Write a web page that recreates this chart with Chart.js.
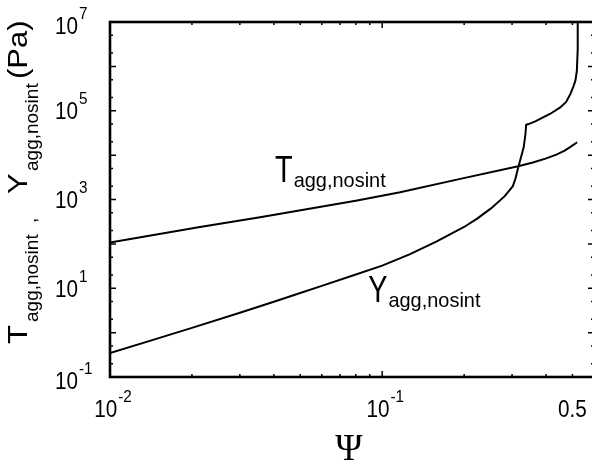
<!DOCTYPE html>
<html><head><meta charset="utf-8">
<script src="https://cdn.jsdelivr.net/npm/chart.js@4.4.0/dist/chart.umd.min.js"></script>
<style>
html,body{margin:0;padding:0;background:#fff;overflow:hidden;}
#wrap{position:relative;width:600px;height:466px;}
</style></head><body>
<div id="wrap"><canvas id="c"></canvas></div>
<script>
// ---- data ----
const tPsi = [0.01, 0.0214, 0.0356, 0.0809, 0.1164, 0.1936, 0.316, 0.355, 0.398, 0.4365, 0.468, 0.49, 0.507, 0.520];
const tVal = [108, 241, 400, 951, 1459, 2917, 5600, 6730, 8320, 10280, 12600, 15100, 17400, 19500];

const yPsi = [0.01, 0.015, 0.02, 0.03, 0.04, 0.05, 0.06, 0.08, 0.1, 0.126, 0.158, 0.2, 0.224, 0.251, 0.282, 0.302,
              0.309, 0.316, 0.3236, 0.331, 0.336, 0.338, 0.345, 0.365, 0.415, 0.451, 0.474, 0.491, 0.5035, 0.5125,
              0.519, 0.5225, 0.5228];
const yVal = [0.346, 0.741, 1.28, 2.81, 4.98, 7.79, 11.3, 20.4, 32.4, 58.2, 112, 240, 376, 631, 1189, 1995,
              3020, 5250, 8910, 14960, 29900, 48400, 50100, 57500, 85700, 118600, 158000, 237000, 347000, 472000,
              794000, 2240000, 10000000];

const xMajor = [0.01, 0.1];
const xMinor = [0.02, 0.03, 0.04, 0.05, 0.06, 0.07, 0.08, 0.09, 0.2, 0.3, 0.4, 0.5, 0.6];
const yMajor = [0.1, 1, 10, 100, 1e3, 1e4, 1e5, 1e6, 1e7];
const yMinor = [0.2, 0.5, 2, 5, 20, 50, 200, 500, 2e3, 5e3, 2e4, 5e4, 2e5, 5e5, 2e6, 5e6];

const xLabelVals = [0.01, 0.1, 0.5];
const xLabelBase = ["10", "10", "0.5"];
const xLabelExp  = ["-2", "-1", ""];
const yLabelVals = [0.1, 10, 1e3, 1e5, 1e7];
const yLabelBase = ["10", "10", "10", "10", "10"];
const yLabelExp  = ["-1", "1", "3", "5", "7"];

const annX = [0.0404, 0.0888];
const annY = [2450, 4.92];
const annMain = ["T", "Y"];
const annSub = ["agg,nosint", "agg,nosint"];

const SANS = "'Liberation Sans', Arial, Helvetica, sans-serif";
const SERIF = "'Liberation Serif', 'Times New Roman', serif";

function sText(ctx, str, x, y, font, sx, sy, align) {
  ctx.save();
  ctx.translate(x, y);
  ctx.scale(sx, sy);
  ctx.font = font;
  ctx.textAlign = align || 'left';
  ctx.textBaseline = 'alphabetic';
  ctx.fillText(str, 0, 0);
  ctx.restore();
}
function sWidth(ctx, str, font, sx) {
  ctx.save(); ctx.font = font; const w = ctx.measureText(str).width * sx; ctx.restore(); return w;
}

const framePlugin = {
  id: 'frame',
  afterDraw(chart) {
    const ctx = chart.ctx, a = chart.chartArea, xs = chart.scales.x, ys = chart.scales.y;
    ctx.save();
    ctx.fillStyle = '#000';
    ctx.strokeStyle = '#000';
    // ticks (inward)
    ctx.lineWidth = 1.5;
    const tick = (vals, len) => {
      vals.forEach(v => {
        const px = xs.getPixelForValue(v);
        ctx.beginPath();
        ctx.moveTo(px, a.bottom); ctx.lineTo(px, a.bottom - len);
        ctx.moveTo(px, a.top); ctx.lineTo(px, a.top + len);
        ctx.stroke();
      });
    };
    const tickY = (vals, len) => {
      vals.forEach(v => {
        const py = ys.getPixelForValue(v);
        ctx.beginPath();
        ctx.moveTo(a.left, py); ctx.lineTo(a.left + len, py);
        ctx.moveTo(a.right, py); ctx.lineTo(a.right - len, py);
        ctx.stroke();
      });
    };
    tick(xMajor, 6); tick(xMinor, 3);
    tickY(yMajor, 6); tickY(yMinor, 3);
    // frame
    ctx.lineWidth = 2.6;
    ctx.strokeRect(a.left, a.top, a.right - a.left, a.bottom - a.top);

    const baseF = "23px " + SANS, expF = "17px " + SANS;
    // y tick labels
    yLabelVals.forEach((v, i) => {
      const py = ys.getPixelForValue(v);
      const edge = (i === 0 || i === yLabelVals.length - 1) ? 3.5 : 0;
      const bl = py + 8.5 + edge;
      sText(ctx, yLabelBase[i], 78, bl, baseF, 0.9, 1, 'right');
      sText(ctx, yLabelExp[i], 79, bl - 15, expF, 0.9, 1, 'left');
    });
    // x tick labels
    xLabelVals.forEach((v, i) => {
      const px = xs.getPixelForValue(v);
      const bl = 416.7;
      if (xLabelExp[i]) {
        const wb = sWidth(ctx, xLabelBase[i], baseF, 0.9);
        const we = sWidth(ctx, xLabelExp[i], expF, 0.9);
        const start = px - (wb + we + 1) / 2 + 3;
        sText(ctx, xLabelBase[i], start, bl, baseF, 0.9, 1, 'left');
        sText(ctx, xLabelExp[i], start + wb + 1, bl - 15, expF, 0.9, 1, 'left');
      } else {
        sText(ctx, xLabelBase[i], px, bl, baseF, 0.9, 1, 'center');
      }
    });
    // curve annotations
    const mainF = "37px " + SANS, subF = "21px " + SANS;
    annMain.forEach((m, i) => {
      const px = xs.getPixelForValue(annX[i]);
      const py = ys.getPixelForValue(annY[i]);
      sText(ctx, m, px, py, mainF, 0.78, 1, 'left');
      const w = sWidth(ctx, m, mainF, 0.78);
      sText(ctx, annSub[i], px + w + 1, py + 5, subF, 0.95, 1, 'left');
    });
    // x axis title
    sText(ctx, "\u03A8", (a.left + a.right) / 2 - 3, 460, "37px " + SERIF, 1, 1, 'center');
    // y axis title (rotated)
    ctx.save();
    ctx.translate(0, 344);
    ctx.rotate(-Math.PI / 2);
    const tMain = "31px " + SANS, tSub = "19px " + SANS;
    sText(ctx, "T", 0, 27, tMain, 1, 0.88, 'left');
    sText(ctx, "agg,nosint", 22, 38, tSub, 1, 1, 'left');
    sText(ctx, ",", 121, 36, tSub, 1, 1, 'left');
    sText(ctx, "Y", 150, 27, tMain, 1, 0.88, 'left');
    sText(ctx, "agg,nosint", 173, 38, tSub, 1, 1, 'left');
    sText(ctx, "(Pa)", 265, 27, tMain, 1, 0.88, 'left');
    ctx.restore();
    ctx.restore();
  }
};

new Chart(document.getElementById('c'), {
  type: 'scatter',
  data: {
    datasets: [
      { label: 'T', data: tPsi.map((x, i) => ({ x: x, y: tVal[i] })), showLine: true,
        borderColor: '#000', backgroundColor: '#000', borderWidth: 2, pointRadius: 0, tension: 0, fill: false },
      { label: 'Y', data: yPsi.map((x, i) => ({ x: x, y: yVal[i] })), showLine: true,
        borderColor: '#000', backgroundColor: '#000', borderWidth: 2, pointRadius: 0, tension: 0, fill: false }
    ]
  },
  options: {
    responsive: true, maintainAspectRatio: false, animation: false, events: [],
    layout: { padding: { left: 110, top: 22, right: 6, bottom: 89 } },
    plugins: { legend: { display: false }, tooltip: { enabled: false } },
    scales: {
      x: { type: 'logarithmic', min: 0.01, max: 0.6, display: false },
      y: { type: 'logarithmic', min: 0.1, max: 1e7, display: false }
    }
  },
  plugins: [framePlugin]
});
</script>
</body></html>
